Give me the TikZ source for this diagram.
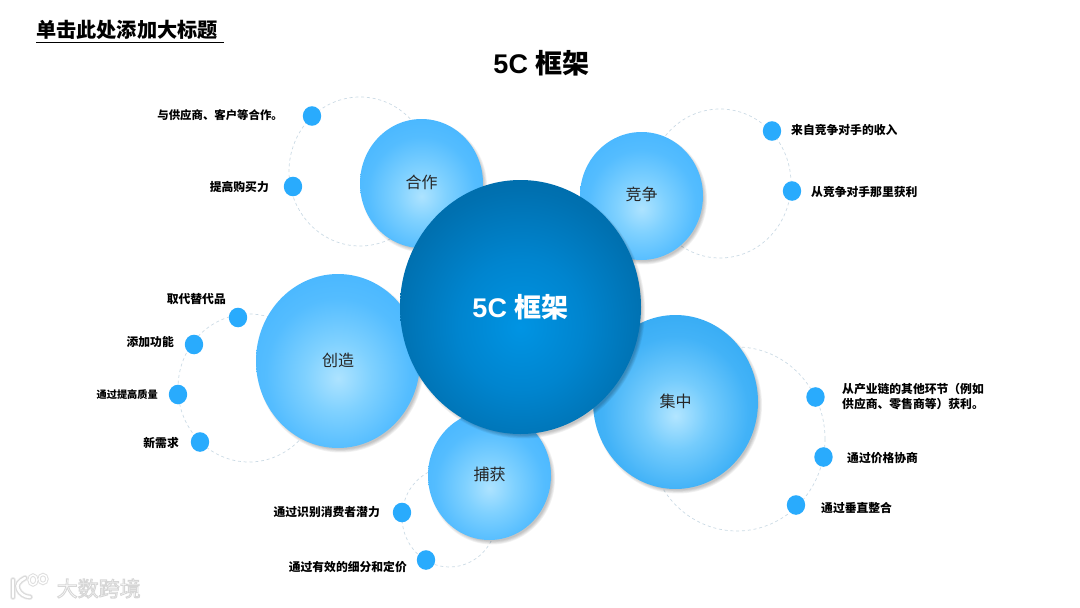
\documentclass[tikz,border=0pt]{standalone}
\usepackage{fontspec}
\usetikzlibrary{shapes.geometric}
\setmainfont{Noto Sans CJK SC}
\setsansfont{Noto Sans CJK SC}
\newfontfamily\latinbold{Liberation Sans}[Scale=1]
\definecolor{dotblue}{HTML}{29ABFD}
\definecolor{ringgrey}{HTML}{CADAE4}
\definecolor{wmgrey}{HTML}{DADADA}
\definecolor{wmgreyb}{HTML}{EDEDED}
\definecolor{sa}{rgb}{0.68,0.89,1.0}
\definecolor{sb}{rgb}{0.50,0.82,1.0}
\definecolor{sc}{rgb}{0.33,0.74,1.0}
\definecolor{sd}{rgb}{0.27,0.71,1.0}
\definecolor{da}{rgb}{0.70,0.90,1.0}
\definecolor{db}{rgb}{0.46,0.80,0.99}
\definecolor{dc}{rgb}{0.26,0.70,0.97}
\definecolor{dd}{rgb}{0.19,0.66,0.95}
\definecolor{ha}{rgb}{0.0,0.58,0.89}
\definecolor{hb}{rgb}{0.0,0.52,0.81}
\definecolor{hc}{rgb}{0.0,0.44,0.69}
\definecolor{hd}{rgb}{0.0,0.41,0.65}
\pgfdeclareradialshading{softball}{\pgfpoint{0bp}{-5bp}}{%
  color(0bp)=(sa); color(10bp)=(sb); color(22bp)=(sc); color(33bp)=(sd); color(100bp)=(sd)}
\pgfdeclareradialshading{softballdeep}{\pgfpoint{0bp}{-4bp}}{%
  color(0bp)=(da); color(10bp)=(db); color(22bp)=(dc); color(33bp)=(dd); color(100bp)=(dd)}
\pgfdeclareradialshading{hubball}{\pgfpoint{0bp}{-4bp}}{%
  color(0bp)=(ha); color(13bp)=(hb); color(26bp)=(hc); color(34bp)=(hd); color(100bp)=(hd)}
\newcommand{\softshadow}[4]{%
  \foreach \k in {0,1,...,4} {\fill[black,opacity=.05] (#1+2.5,#2+3) ellipse [x radius={#3+1.5-\k*.8},y radius={#4+1.5-\k*.8}];}}
\newcommand{\outlined}[1]{\special{pdf:code 2 Tr 0.9 w 0.84 0.84 0.84 RG 1 1 1 rg}#1\special{pdf:code 0 Tr}}
\tikzset{
  x=1pt,y=-1pt,
  bubble/.style={ellipse,inner sep=0pt,outer sep=0pt,shading=softball,
     text=black!85,font=\fontsize{16}{16}\selectfont},
  bubbledeep/.style={bubble,shading=softballdeep},
  hub/.style={ellipse,inner sep=0pt,outer sep=0pt,shading=hubball,
     text=white,font=\fontsize{27}{27}\selectfont\bfseries},
  ring/.style={ellipse,inner sep=0pt,draw=ringgrey,line width=.7pt,dash pattern=on 3pt off 2.8pt},
  bead/.style={ellipse,inner sep=0pt,minimum width=18.4pt,minimum height=19.6pt,fill=dotblue},
  lbl/.style={inner sep=0pt,text=black,font=\fontsize{11.8}{15}\selectfont\bfseries,align=left},
  wmtext/.style={inner sep=0pt,anchor=west,font=\fontsize{21}{21}\selectfont},
}
\begin{document}
\begin{tikzpicture}
\useasboundingbox (0,0) rectangle (1080,608);
% titles
\node[inner sep=0pt,anchor=west,font=\fontsize{20.2}{20}\selectfont\bfseries] (maintitle) at (36,29.5) {单击此处添加大标题};
\coordinate (ula) at (36,42.5);
\coordinate (ulb) at (224,42.5);
\draw[line width=1pt,black] (ula) -- (ulb);
\node[inner sep=0pt,font=\fontsize{27}{27}\selectfont\bfseries] (head) at (541.5,63.5) {{\latinbold\bfseries 5C }框架};
% dashed rings
\node[ring,minimum width=142pt,minimum height=149pt] (ringa) at (360,171.5) {};
\node[ring,minimum width=142pt,minimum height=149pt] (ringb) at (720,183.5) {};
\node[ring,minimum width=142pt,minimum height=148pt] (ringc) at (249,388) {};
\node[ring,minimum width=176pt,minimum height=184pt] (ringd) at (737,439) {};
\node[ring,minimum width=95pt,minimum height=100pt] (ringe) at (449.5,517) {};
% bubbles
\softshadow{421.5}{183.5}{61.5}{64.5}
\node[bubble,minimum width=123pt,minimum height=129pt] (hezuo) at (421.5,183.5) {\raisebox{2.5pt}{合作}};
\softshadow{641.5}{196}{61.5}{64}
\node[bubble,minimum width=123pt,minimum height=128pt] (jingzheng) at (641.5,196) {\raisebox{4pt}{竞争}};
\softshadow{338}{361}{82}{87}
\node[bubble,minimum width=164pt,minimum height=174pt] (chuangzao) at (338,361) {\raisebox{2pt}{创造}};
\softshadow{489.5}{475.5}{61.5}{64.5}
\node[bubble,minimum width=123pt,minimum height=129pt] (buhuo) at (489.5,475.5) {\raisebox{3.5pt}{捕获}};
\softshadow{675.5}{402}{82.5}{87}
\node[bubbledeep,minimum width=165pt,minimum height=174pt] (jizhong) at (675.5,402) {\raisebox{3pt}{集中}};
\softshadow{520.5}{307}{120.5}{127}
\node[hub,minimum width=241pt,minimum height=254pt] (hubc) at (520.5,307) {{\latinbold\bfseries 5C }框架};
% beads
\node[bead] (a1) at (312,116) {};
\node[bead] (a2) at (293,186.5) {};
\node[bead] (b1) at (772,131) {};
\node[bead] (b2) at (792,191) {};
\node[bead] (c1) at (238,317.5) {};
\node[bead] (c2) at (194,344.5) {};
\node[bead] (c3) at (178,394.5) {};
\node[bead] (c4) at (200,442) {};
\node[bead] (d1) at (815.5,397) {};
\node[bead] (d2) at (823.5,457) {};
\node[bead] (d3) at (796,505) {};
\node[bead] (e1) at (402,512.5) {};
\node[bead] (e2) at (426,560) {};
% labels
\node[lbl,anchor=east,font=\fontsize{11.4}{15}\selectfont\bfseries] (ta1) at (283,115) {与供应商、客户等合作。};
\node[lbl,anchor=east] (ta2) at (269,186.5) {提高购买力};
\node[lbl,anchor=west] (tb1) at (791,130.5) {来自竞争对手的收入};
\node[lbl,anchor=west] (tb2) at (811,191.5) {从竞争对手那里获利};
\node[lbl,anchor=east] (tc1) at (226,299) {取代替代品};
\node[lbl,anchor=east] (tc2) at (174,342.5) {添加功能};
\node[lbl,anchor=east,font=\fontsize{10.2}{15}\selectfont\bfseries] (tc3) at (158,395) {通过提高质量};
\node[lbl,anchor=east] (tc4) at (179,443) {新需求};
\node[lbl,anchor=west] (td1) at (842,397) {从产业链的其他环节（例如\\供应商、零售商等）获利。};
\node[lbl,anchor=west] (td2) at (847,458) {通过价格协商};
\node[lbl,anchor=west] (td3) at (821,507.5) {通过垂直整合};
\node[lbl,anchor=east] (te1) at (380,512.5) {通过识别消费者潜力};
\node[lbl,anchor=east] (te2) at (407,567) {通过有效的细分和定价};
% watermark
\node[wmtext] (wm) at (56.5,588.5) {\outlined{大数跨境}};
\foreach \w/\c in {6/wmgreyb,4.6/wmgrey,2.4/white} {
  \draw[line width=\w pt,\c,line cap=round] (13,580) -- (13,597);
  \draw[line width=\w pt,\c,line cap=round] (25,578) .. controls (19,581) and (16,585) .. (18,589) .. controls (20,594) and (25,597) .. (30,597);
  \draw[line width=\w*.6 pt,\c] (33,580) ellipse (4 and 5);
  \draw[line width=\w*.6 pt,\c] (43,579) ellipse (4 and 4.5);
}
\end{tikzpicture}
\end{document}
